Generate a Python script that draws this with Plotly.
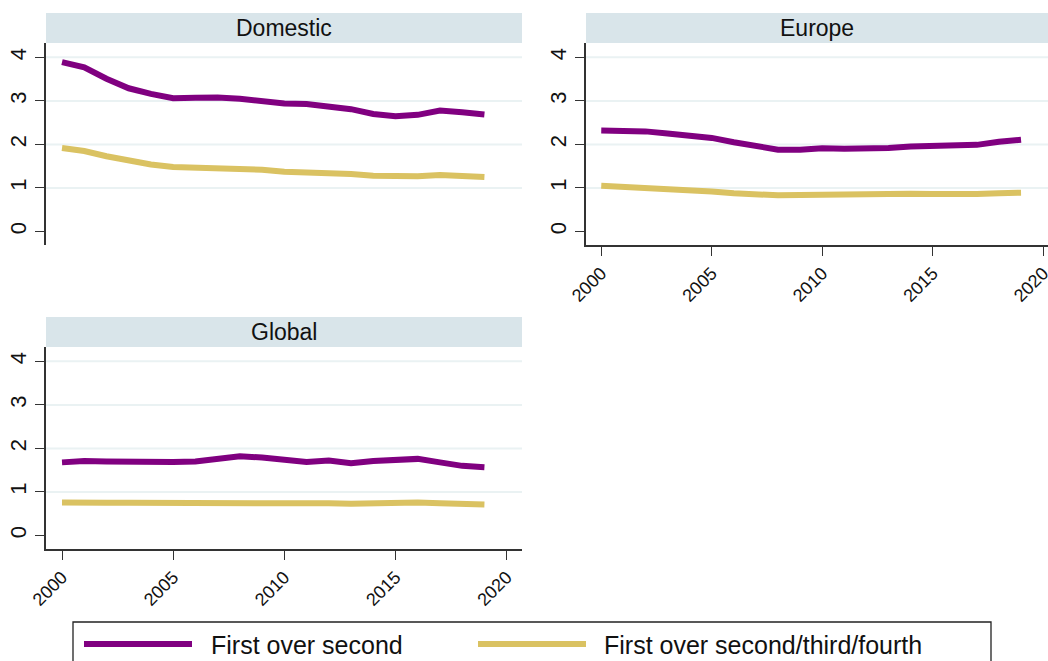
import plotly.graph_objects as go

# ---- data -------------------------------------------------------------
years = list(range(2000, 2020))

domestic_first_second = [3.89, 3.77, 3.51, 3.29, 3.16, 3.06, 3.07, 3.08, 3.05, 3.00,
                         2.94, 2.93, 2.87, 2.81, 2.70, 2.65, 2.68, 2.78, 2.74, 2.69]
domestic_first_rest = [1.92, 1.85, 1.73, 1.62, 1.54, 1.48, 1.46, 1.46, 1.45, 1.42,
                       1.37, 1.36, 1.33, 1.32, 1.28, 1.27, 1.27, 1.30, 1.28, 1.25]

europe_first_second = [2.32, 2.31, 2.30, 2.25, 2.21, 2.15, 2.05, 1.95, 1.88, 1.88,
                       1.91, 1.90, 1.90, 1.92, 1.95, 1.96, 1.95, 1.99, 2.06, 2.11]
europe_first_rest = [1.05, 1.03, 1.01, 0.97, 0.95, 0.92, 0.88, 0.85, 0.83, 0.84,
                     0.85, 0.85, 0.86, 0.87, 0.87, 0.86, 0.85, 0.86, 0.88, 0.89]

global_first_second = [1.68, 1.71, 1.70, 1.69, 1.68, 1.69, 1.70, 1.75, 1.82, 1.79,
                       1.75, 1.69, 1.72, 1.66, 1.71, 1.73, 1.76, 1.68, 1.60, 1.57]
global_first_rest = [0.76, 0.77, 0.75, 0.75, 0.75, 0.75, 0.75, 0.75, 0.77, 0.76,
                     0.75, 0.74, 0.74, 0.73, 0.75, 0.75, 0.76, 0.74, 0.72, 0.71]

panel_titles = ["Domestic", "Europe", "Global"]
series_names = ["First over second", "First over second/third/fourth"]
series_colors = ["#800080", "#dac262"]
y_ticks = [0, 1, 2, 3, 4]
x_ticks = [2000, 2005, 2010, 2015, 2020]

panels = [
    (domestic_first_second, domestic_first_rest),
    (europe_first_second, europe_first_rest),
    (global_first_second, global_first_rest),
]

# ---- layout geometry (pixels) -----------------------------------------
W, H = 1048, 661
FONT = "Liberation Sans, Arial, sans-serif"
TEXT_COLOR = "#111111"
AXIS_COLOR = "#333333"
GRID_COLOR = "#eaf2f3"
STRIP_COLOR = "#d9e5ea"
STRIP_H = 30
LINE_W = 6

# left, right, top, bottom of each plot area
boxes = [(46, 522, 43, 245), (586, 1048, 43, 245), (46, 522, 347, 549)]
x_ranges = [[1999.28, 2020.69], [1999.31, 2020.22], [1999.28, 2020.69]]
y_range = [-0.31, 4.33]


def px_x(v):
    return v / W


def px_y(v):
    return 1 - v / H


fig = go.Figure()
layout = dict(
    width=W, height=H,
    margin=dict(l=0, r=0, t=0, b=0, autoexpand=False),
    paper_bgcolor="white", plot_bgcolor="white",
    showlegend=False,
    font=dict(family=FONT, color=TEXT_COLOR, size=16),
)
shapes, annotations = [], []

for i, ((s1, s2), (l, r, t, b)) in enumerate(zip(panels, boxes)):
    suffix = "" if i == 0 else str(i + 1)
    xa, ya = "x" + suffix, "y" + suffix
    for vals, name, color in zip((s1, s2), series_names, series_colors):
        fig.add_trace(go.Scatter(
            x=years, y=vals, mode="lines", name=name,
            line=dict(color=color, width=LINE_W),
            xaxis=xa, yaxis=ya,
        ))
    show_x = i != 0
    layout["xaxis" + suffix] = dict(
        domain=[px_x(l), px_x(r)], range=x_ranges[i], anchor=ya,
        showgrid=False, zeroline=False,
        showline=show_x, linecolor=AXIS_COLOR, linewidth=1.5,
        ticks="outside" if show_x else "", ticklen=9, tickwidth=1.3,
        tickcolor=AXIS_COLOR, tickvals=x_ticks if show_x else [],
        showticklabels=show_x, tickangle=-45,
        ticklabeloverflow="allow",
        tickfont=dict(size=18, family=FONT, color=TEXT_COLOR),
    )
    layout["yaxis" + suffix] = dict(
        domain=[px_y(b), px_y(t)], range=y_range, anchor=xa,
        showgrid=False, zeroline=False,
        showline=True, linecolor=AXIS_COLOR, linewidth=1.5,
        ticks="outside", ticklen=9, tickwidth=1.3, tickcolor=AXIS_COLOR,
        tickvals=y_ticks, tickangle=-90,
        ticklabeloverflow="allow",
        tickfont=dict(size=22, family=FONT, color=TEXT_COLOR),
    )
    # horizontal gridlines at the non-zero ticks
    for v in y_ticks[1:]:
        shapes.append(dict(
            type="line", xref=xa + " domain", yref=ya,
            x0=0, x1=1, y0=v, y1=v, layer="below",
            line=dict(color=GRID_COLOR, width=2),
        ))
    # panel strip with title
    shapes.append(dict(
        type="rect", xref="paper", yref="paper",
        x0=px_x(l), x1=px_x(r), y0=px_y(t), y1=px_y(t - STRIP_H),
        fillcolor=STRIP_COLOR, line=dict(width=0),
    ))
    annotations.append(dict(
        text=panel_titles[i], xref="paper", yref="paper",
        x=px_x((l + r) / 2), y=px_y(t - STRIP_H / 2),
        xanchor="center", yanchor="middle", showarrow=False,
        font=dict(size=23, family=FONT, color=TEXT_COLOR),
    ))

# ---- legend box drawn below the panels ---------------------------------
shapes.append(dict(
    type="rect", xref="paper", yref="paper",
    x0=px_x(73), x1=px_x(991), y0=px_y(622), y1=px_y(680),
    line=dict(color="#222222", width=1.3), fillcolor="rgba(0,0,0,0)",
))
legend_x = [(84, 192, 209), (478, 586, 602)]
for (lx0, lx1, tx), name, color in zip(legend_x, series_names, series_colors):
    shapes.append(dict(
        type="line", xref="paper", yref="paper",
        x0=px_x(lx0), x1=px_x(lx1), y0=px_y(644), y1=px_y(644),
        line=dict(color=color, width=LINE_W),
    ))
    annotations.append(dict(
        text=name, xref="paper", yref="paper",
        x=px_x(tx), y=px_y(645), xanchor="left", yanchor="middle",
        showarrow=False, font=dict(size=25, family=FONT, color=TEXT_COLOR),
    ))

layout["shapes"] = shapes
layout["annotations"] = annotations
fig.update_layout(**layout)

fig.write_html("out.html")
